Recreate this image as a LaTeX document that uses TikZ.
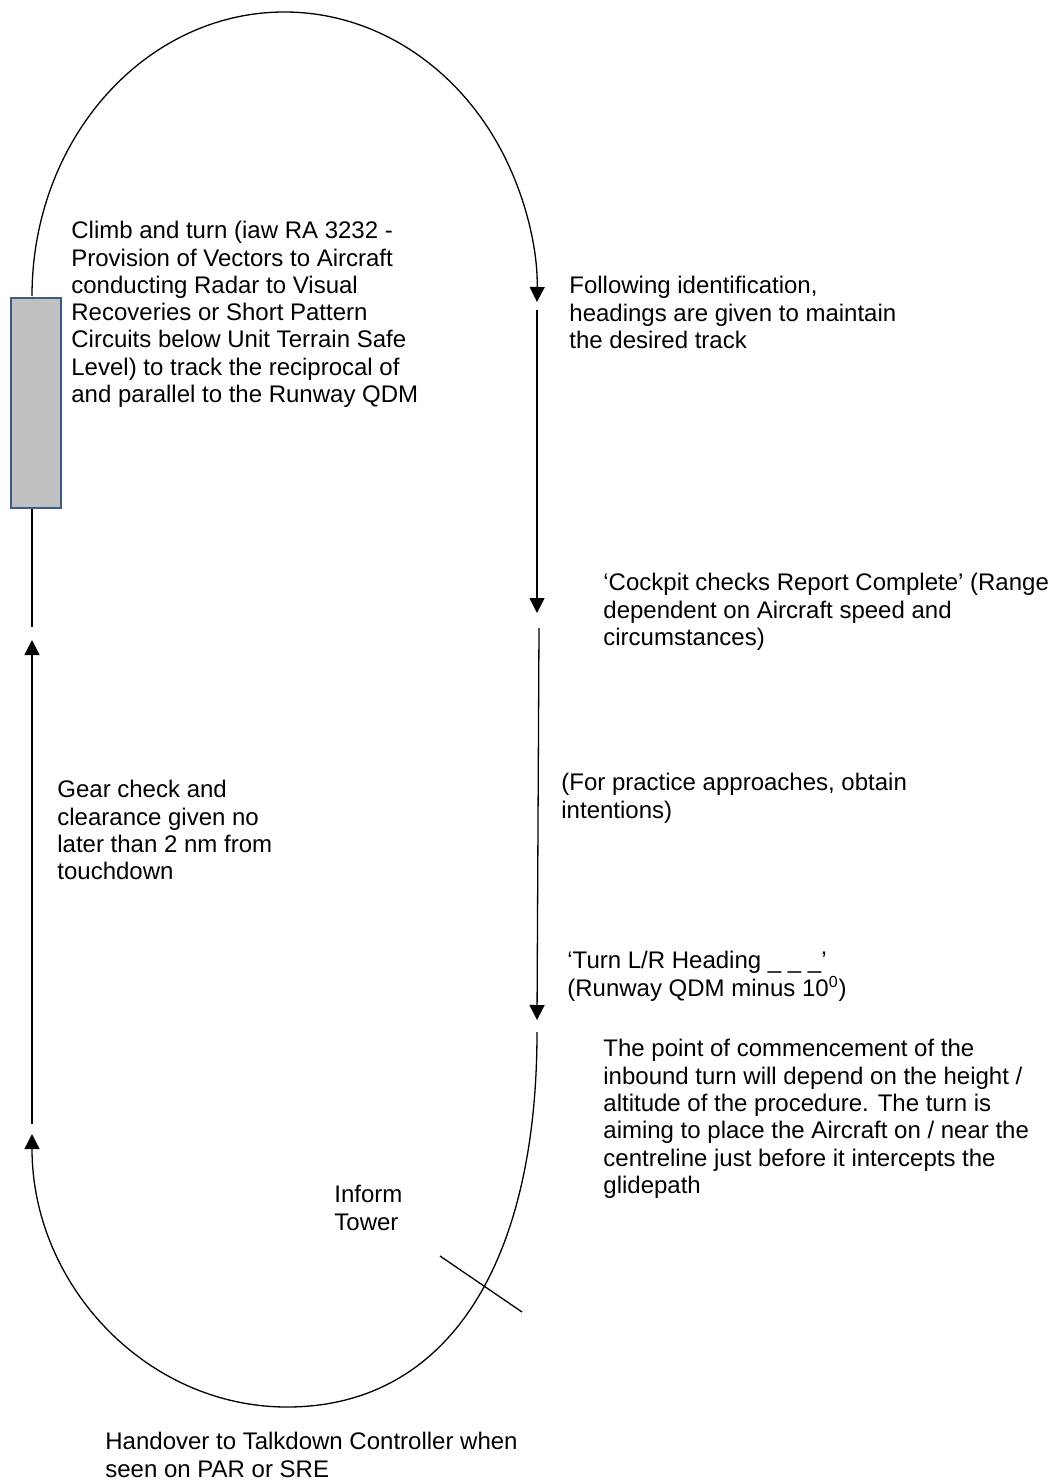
\documentclass[tikz,border=0pt]{standalone}
\usepackage{fontspec}
\setmainfont{Liberation Sans}
\usepackage{xcolor}
\usepackage{tikz}
\usetikzlibrary{arrows.meta}

\definecolor{rwyblue}{HTML}{385D8A}
\definecolor{rwygray}{HTML}{C0C0C0}

\begin{document}
\begin{tikzpicture}[x=0.5pt,y=0.5pt,
    track/.style={line width=0.65pt},
    tip/.style={-{Triangle[width=7.5pt,length=7.5pt]}},
    note/.style={anchor=north west,inner sep=0pt,align=left,font=\fontsize{12}{13.65}\selectfont}]
    \useasboundingbox (0,0) rectangle (1052,-1481);

    % Runway
    \node[draw=rwyblue, line width=1pt, fill=rwygray, minimum width=25pt, minimum height=105pt,
          inner sep=0pt, anchor=north west] (runway) at (10,-297) {};

    % Points round the pattern
    \coordinate (climb) at (32,-296);
    \coordinate (downA) at (537,-310);
    \coordinate (downB) at (537,-613);
    \coordinate (downC) at (539,-628);
    \coordinate (downD) at (537,-1020);
    \coordinate (baseturn) at (537,-1032);
    \coordinate (bottom) at (287,-1407);
    \coordinate (finalA) at (32,-1124);
    \coordinate (finalB) at (32,-640);
    \coordinate (finalC) at (32,-627);
    \coordinate (towerA) at (440,-1256);
    \coordinate (towerB) at (522,-1312);

    % Climb out and turn downwind
    \draw[track,tip] (climb) arc[start angle=180, end angle=-1.2, x radius=252.5, y radius=284];

    % Downwind leg
    \draw[track,tip] (downA) -- (downB);
    \draw[track,tip] (downC) -- (downD);

    % Inbound turn
    \draw[track,tip] (baseturn) .. controls (537,-1268) and (445,-1407) .. (bottom)
        arc[start angle=270, end angle=180, x radius=255, y radius=273];

    % Final approach
    \draw[track,tip] (finalA) -- (finalB);
    \draw[track] (finalC) -- (runway.south -| finalC);

    % Inform tower mark
    \draw[track] (towerA) -- (towerB);

    % Labels
    \node[note] (climbtxt) at (71,-221) {Climb and turn (iaw RA 3232 -\\Provision of Vectors to Aircraft\\conducting Radar to Visual\\Recoveries or Short Pattern\\Circuits below Unit Terrain Safe\\Level) to track the reciprocal of\\and parallel to the Runway QDM};
    \node[note] (identtxt) at (569,-276) {Following identification,\\headings are given to maintain\\the desired track};
    \node[note] (checktxt) at (603,-573) {‘Cockpit checks Report Complete’ (Range\\dependent on Aircraft speed and\\circumstances)};
    \node[note] (practtxt) at (561,-773) {(For practice approaches, obtain\\intentions)};
    \node[note] (geartxt) at (57,-780) {Gear check and\\clearance given no\\later than 2 nm from\\touchdown};
    \node[note] (headtxt) at (567,-951) {‘Turn L/R Heading \_ \_ \_’\\(Runway QDM minus 10\textsuperscript{0})};
    \node[note] (pointtxt) at (603,-1039) {The point of commencement of the\\inbound turn will depend on the height /\\altitude of the procedure. The turn is\\aiming to place the Aircraft on / near the\\centreline just before it intercepts the\\glidepath};
    \node[note] (towertxt) at (334,-1185) {Inform\\Tower};
    \node[note] (handtxt) at (105,-1432) {Handover to Talkdown Controller when\\seen on PAR or SRE};
\end{tikzpicture}
\end{document}
